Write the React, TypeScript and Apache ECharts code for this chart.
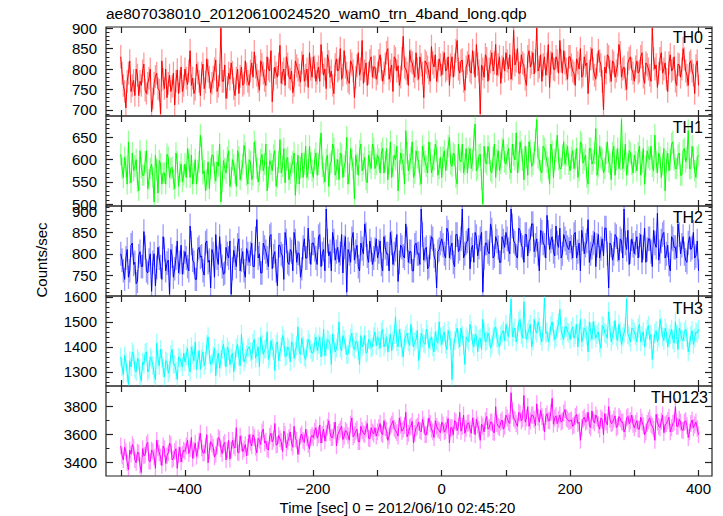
import React, { useEffect, useRef } from 'react';
import * as echarts from 'echarts';

const TITLE = 'ae807038010_20120610024520_wam0_trn_4band_long.qdp';
const X_TITLE = 'Time [sec] 0 = 2012/06/10 02:45:20';
const Y_TITLE = 'Counts/sec';
// Samples "A" are at t = -500 + 4k s, samples "B" at t = -498 + 4k s (2 s spacing overall).
const TIME_START = -500;
const STEP = 2;

const TH0_A = [
  830, 760, 705, 790, 745, 772, 800, 735, 760, 812, 740, 778, 695, 765, 790, 748, 820, 752, 730, 785, 758, 712, 798, 770, 745,
  800, 762, 845, 778, 750, 790, 735, 812, 768, 795, 742, 780, 822, 758, 900, 770, 728, 790, 815, 752, 778, 740, 805, 765, 788,
  760, 815, 842, 785, 748, 810, 772, 830, 795, 720, 805, 780, 858, 790, 760, 812, 775, 742, 820, 798, 768, 835, 785, 755, 800,
  830, 770, 805, 860, 785, 752, 818, 795, 740, 825, 800, 775, 845, 790, 765, 812, 730, 808, 785, 870, 795, 760, 820, 780, 805,
  790, 835, 770, 812, 850, 795, 745, 825, 808, 780, 880, 800, 760, 820, 795, 840, 775, 810, 730, 815, 790, 855, 805, 770, 825,
  785, 840, 800, 760, 830, 810, 870, 790, 822, 748, 815, 795, 845, 780, 812, 690, 800, 835, 770, 818, 795, 860, 810, 765, 828,
  840, 800, 775, 895, 820, 790, 835, 810, 760, 845, 815, 788, 900, 805, 770, 830, 812, 755, 840, 798, 820, 870, 790, 815, 775,
  830, 795, 760, 815, 850, 785, 808, 740, 825, 800, 775, 845, 810, 700, 790, 830, 770, 815, 795, 860, 780, 805, 750, 825, 800,
  770, 820, 795, 840, 765, 810, 785, 900, 800, 755, 825, 790, 815, 745, 835, 800, 770, 812, 780, 850, 795, 760, 820, 785, 808,
  760,
];
const TH0_B = [
  790, 745, 770, 820, 760, 735, 785, 770, 795, 748, 765, 800, 728, 782, 752, 690, 775, 800, 765, 745, 790, 770, 740, 805, 760,
  778, 795, 760, 740, 812, 770, 790, 752, 825, 780, 765, 800, 745, 785, 770, 810, 755, 775, 792, 735, 800, 782, 760, 820, 770,
  795, 780, 805, 770, 820, 790, 760, 800, 845, 775, 790, 812, 765, 800, 830, 780, 795, 760, 808, 785, 815, 770, 800, 840, 780,
  805, 790, 770, 815, 800, 835, 780, 760, 810, 795, 850, 785, 805, 770, 820, 795, 780, 840, 800, 765, 815, 790, 830, 805, 775,
  820, 800, 790, 840, 775, 810, 830, 795, 760, 825, 805, 790, 845, 815, 780, 800, 830, 790, 820, 805, 770, 815, 835, 795, 810,
  815, 795, 830, 810, 780, 845, 800, 820, 770, 805, 835, 790, 815, 860, 795, 810, 780, 825, 800, 840, 815, 785, 830, 805, 795,
  820, 835, 800, 810, 850, 790, 815, 775, 830, 805, 840, 820, 795, 835, 810, 785, 860, 815, 800, 830, 790, 820, 845, 800, 830,
  810, 790, 825, 800, 780, 830, 815, 795, 850, 785, 810, 820, 770, 805, 835, 795, 820, 780, 810, 840, 800, 775, 815, 830, 790,
  805, 790, 830, 780, 815, 800, 770, 825, 810, 790, 840, 800, 775, 815, 795, 830, 760, 810, 800, 825, 785, 815, 795, 740, 820,
];
const TH1_A = [
  612, 560, 585, 640, 548, 575, 600, 530, 582, 565, 620, 555, 590, 505, 578, 598, 545, 570, 612, 560, 583, 535, 595, 572, 550,
  590, 625, 560, 545, 600, 575, 655, 568, 530, 595, 580, 610, 552, 585, 505, 598, 570, 620, 560, 588, 540, 605, 575, 632, 565,
  600, 555, 640, 580, 565, 612, 590, 530, 598, 575, 620, 560, 645, 585, 548, 605, 570, 595, 520, 610, 582, 560, 630, 578, 592,
  560, 615, 590, 660, 570, 600, 540, 595, 625, 578, 555, 610, 585, 650, 568, 600, 512, 590, 620, 575, 605, 548, 595, 635, 580,
  610, 570, 625, 595, 555, 640, 585, 600, 530, 615, 590, 665, 575, 605, 560, 620, 595, 545, 610, 585, 640, 570, 600, 620, 580,
  560, 620, 600, 650, 585, 610, 545, 600, 635, 590, 570, 625, 598, 680, 580, 612, 500, 595, 630, 575, 605, 560, 620, 592, 645,
  590, 625, 570, 610, 660, 595, 620, 555, 605, 640, 585, 615, 690, 600, 570, 625, 595, 545, 618, 600, 655, 580, 610, 590, 630,
  575, 620, 600, 560, 640, 592, 610, 545, 625, 598, 670, 585, 605, 570, 615, 595, 555, 630, 600, 580, 690, 598, 565, 620, 590,
  610, 575, 630, 595, 545, 620, 600, 585, 655, 570, 605, 590, 530, 615, 600, 640, 580, 610, 565, 620, 595, 665, 580, 605, 560,
  610,
];
const TH1_B = [
  580, 605, 545, 570, 615, 585, 550, 620, 565, 595, 535, 580, 560, 610, 525, 590, 570, 545, 605, 580, 555, 615, 540, 590, 565,
  560, 600, 610, 570, 545, 595, 625, 575, 555, 535, 610, 570, 595, 635, 550, 580, 605, 540, 600, 570, 620, 555, 590, 615, 545,
  595, 565, 620, 550, 600, 575, 635, 560, 590, 610, 540, 595, 570, 625, 600, 555, 585, 615, 570, 545, 615, 590, 560, 630, 575,
  600, 565, 625, 585, 550, 610, 590, 635, 565, 600, 615, 560, 595, 545, 625, 580, 610, 565, 635, 590, 555, 610, 580, 625, 590,
  600, 615, 570, 625, 590, 560, 610, 630, 575, 600, 545, 615, 590, 640, 570, 605, 565, 630, 595, 570, 615, 585, 635, 565, 605,
  605, 575, 630, 590, 615, 560, 635, 595, 570, 625, 605, 580, 645, 575, 610, 555, 630, 590, 615, 570, 635, 600, 575, 625, 595,
  610, 580, 635, 600, 570, 640, 600, 630, 565, 620, 590, 645, 605, 575, 630, 610, 580, 635, 560, 620, 600, 580, 640, 610, 590,
  605, 580, 625, 575, 635, 600, 560, 625, 590, 615, 565, 630, 600, 580, 640, 590, 615, 565, 625, 600, 580, 635, 590, 615, 570,
  595, 615, 565, 625, 585, 605, 630, 575, 595, 615, 560, 625, 595, 575, 635, 600, 580, 615, 565, 625, 605, 580, 630, 575, 605,
];
const TH2_A = [
  800, 760, 790, 745, 820, 775, 730, 795, 770, 852, 760, 785, 712, 800, 768, 790, 740, 810, 778, 705, 795, 765, 830, 780, 752,
  805, 770, 865, 785, 740, 810, 792, 760, 825, 780, 720, 800, 845, 775, 795, 752, 815, 790, 705, 808, 770, 835, 785, 760, 812,
  780, 825, 770, 880, 800, 755, 815, 790, 840, 765, 805, 725, 820, 795, 850, 780, 810, 760, 830, 802, 745, 815, 790, 860, 775,
  825, 790, 840, 770, 810, 905, 795, 760, 830, 805, 780, 845, 815, 710, 800, 835, 785, 820, 760, 812, 870, 795, 830, 775, 810,
  790, 830, 760, 815, 800, 850, 775, 810, 735, 820, 795, 870, 780, 805, 760, 825, 800, 905, 785, 815, 770, 840, 795, 720, 810,
  835, 800, 860, 790, 825, 770, 845, 812, 905, 800, 830, 765, 820, 850, 795, 835, 710, 825, 805, 870, 790, 840, 815, 780, 830,
  850, 810, 905, 830, 795, 860, 820, 780, 845, 830, 870, 805, 835, 760, 850, 820, 890, 810, 840, 795, 825, 860, 800, 835, 815,
  830, 790, 850, 805, 760, 835, 820, 880, 800, 825, 770, 845, 812, 795, 860, 720, 820, 800, 840, 785, 830, 905, 810, 775, 835,
  800, 840, 820, 780, 860, 810, 835, 770, 825, 895, 805, 845, 790, 820, 760, 835, 815, 870, 800, 840, 785, 825, 810, 850, 795,
  760,
];
const TH2_B = [
  785, 740, 810, 760, 825, 780, 735, 805, 770, 815, 755, 800, 780, 725, 815, 770, 840, 760, 785, 810, 745, 790, 755, 820, 780,
  790, 760, 825, 780, 740, 815, 795, 750, 830, 785, 810, 745, 790, 840, 770, 755, 800, 830, 765, 790, 820, 760, 805, 745, 800,
  800, 770, 835, 790, 755, 825, 805, 770, 845, 795, 760, 820, 800, 740, 830, 775, 805, 850, 780, 800, 765, 835, 790, 805, 825,
  810, 775, 845, 800, 760, 830, 805, 850, 785, 815, 800, 755, 840, 810, 780, 850, 805, 770, 825, 800, 845, 780, 810, 790, 835,
  805, 775, 840, 800, 760, 825, 800, 845, 780, 815, 790, 835, 805, 760, 820, 800, 775, 845, 810, 765, 815, 835, 785, 805, 825,
  820, 790, 850, 815, 780, 845, 805, 835, 790, 825, 860, 810, 780, 840, 815, 850, 790, 825, 800, 855, 795, 830, 780, 840, 815,
  835, 800, 865, 825, 790, 855, 815, 845, 795, 835, 870, 820, 800, 855, 825, 790, 850, 830, 805, 865, 815, 790, 845, 825, 810,
  815, 845, 790, 825, 855, 800, 830, 780, 815, 850, 820, 790, 835, 860, 800, 825, 785, 845, 810, 835, 790, 825, 855, 805, 820,
  825, 790, 845, 815, 780, 835, 805, 855, 815, 785, 830, 850, 800, 775, 840, 815, 790, 845, 820, 800, 780, 840, 815, 790, 830,
];
const TH3_A = [
  1360, 1290, 1340, 1250, 1320, 1370, 1300, 1345, 1265, 1330, 1380, 1310, 1350, 1290, 1415, 1325, 1355, 1280, 1340, 1310, 1390, 1330, 1270, 1355, 1320,
  1340, 1395, 1300, 1370, 1420, 1350, 1310, 1380, 1345, 1440, 1330, 1365, 1285, 1375, 1350, 1410, 1320, 1385, 1355, 1300, 1395, 1360, 1450, 1340, 1370,
  1400, 1350, 1430, 1375, 1320, 1410, 1390, 1460, 1365, 1395, 1305, 1420, 1380, 1445, 1360, 1400, 1340, 1415, 1385, 1480, 1370, 1405, 1350, 1430, 1390,
  1380, 1440, 1410, 1360, 1470, 1400, 1425, 1330, 1415, 1395, 1500, 1385, 1430, 1370, 1410, 1455, 1390, 1420, 1330, 1400, 1445, 1380, 1425, 1400, 1460,
  1440, 1395, 1470, 1415, 1380, 1450, 1425, 1520, 1400, 1435, 1360, 1445, 1420, 1490, 1400, 1430, 1345, 1455, 1415, 1470, 1395, 1440, 1380, 1425, 1500,
  1410, 1460, 1390, 1440, 1270, 1425, 1475, 1400, 1445, 1330, 1430, 1490, 1415, 1450, 1380, 1435, 1510, 1420, 1455, 1395, 1440, 1480, 1410, 1445, 1465,
  1490, 1440, 1590, 1460, 1420, 1500, 1450, 1580, 1430, 1470, 1400, 1510, 1455, 1480, 1420, 1595, 1460, 1440, 1500, 1430, 1470, 1550, 1445, 1480, 1460,
  1430, 1480, 1450, 1400, 1510, 1440, 1470, 1380, 1460, 1500, 1435, 1460, 1395, 1480, 1450, 1540, 1420, 1465, 1440, 1490, 1410, 1455, 1590, 1440, 1475,
  1460, 1420, 1490, 1445, 1400, 1470, 1430, 1350, 1455, 1420, 1510, 1440, 1475, 1400, 1450, 1430, 1500, 1390, 1460, 1425, 1470, 1380, 1445, 1410, 1460,
  1470,
];
const TH3_B = [
  1320, 1365, 1295, 1345, 1380, 1310, 1355, 1285, 1340, 1375, 1300, 1360, 1325, 1270, 1350, 1390, 1315, 1345, 1295, 1370, 1330, 1305, 1360, 1340, 1375,
  1365, 1320, 1400, 1345, 1310, 1385, 1355, 1325, 1410, 1370, 1335, 1395, 1350, 1315, 1390, 1360, 1400, 1330, 1375, 1345, 1410, 1325, 1380, 1355, 1395,
  1380, 1415, 1355, 1400, 1440, 1370, 1395, 1350, 1425, 1385, 1410, 1345, 1400, 1430, 1365, 1390, 1420, 1355, 1405, 1380, 1435, 1360, 1395, 1415, 1375,
  1415, 1385, 1440, 1400, 1365, 1430, 1410, 1450, 1380, 1420, 1395, 1445, 1405, 1370, 1435, 1400, 1420, 1385, 1445, 1410, 1375, 1430, 1395, 1440, 1405,
  1425, 1460, 1400, 1440, 1415, 1385, 1450, 1420, 1470, 1395, 1430, 1455, 1405, 1440, 1420, 1465, 1390, 1435, 1410, 1450, 1425, 1400, 1460, 1415, 1440,
  1445, 1410, 1465, 1425, 1395, 1455, 1430, 1475, 1405, 1440, 1420, 1465, 1400, 1445, 1430, 1390, 1460, 1425, 1440, 1410, 1470, 1435, 1400, 1455, 1425,
  1460, 1495, 1440, 1475, 1450, 1510, 1435, 1470, 1455, 1490, 1425, 1465, 1500, 1445, 1475, 1455, 1420, 1485, 1460, 1440, 1495, 1465, 1430, 1480, 1455,
  1465, 1435, 1490, 1455, 1420, 1475, 1445, 1500, 1430, 1465, 1450, 1415, 1485, 1455, 1435, 1475, 1445, 1505, 1425, 1460, 1440, 1480, 1450, 1420, 1470,
  1445, 1475, 1420, 1460, 1435, 1485, 1450, 1410, 1465, 1440, 1480, 1425, 1455, 1435, 1470, 1415, 1450, 1475, 1430, 1460, 1440, 1405, 1465, 1435, 1455,
];
const TH0123_A = [
  3520, 3420, 3480, 3350, 3460, 3510, 3400, 3470, 3330, 3450, 3530, 3410, 3490, 3440, 3560, 3470, 3380, 3500, 3450, 3540, 3420, 3480, 3360, 3510, 3460,
  3480, 3560, 3500, 3430, 3540, 3490, 3610, 3470, 3520, 3400, 3550, 3510, 3460, 3580, 3500, 3530, 3420, 3560, 3490, 3520, 3650, 3470, 3540, 3500, 3450,
  3600, 3520, 3580, 3470, 3560, 3620, 3540, 3500, 3590, 3550, 3680, 3530, 3570, 3480, 3600, 3550, 3620, 3510, 3570, 3460, 3590, 3560, 3640, 3530, 3580,
  3580, 3650, 3600, 3540, 3640, 3610, 3700, 3580, 3630, 3520, 3620, 3660, 3590, 3620, 3560, 3720, 3600, 3640, 3550, 3630, 3600, 3680, 3570, 3620, 3650,
  3620, 3680, 3600, 3650, 3560, 3660, 3700, 3630, 3590, 3670, 3640, 3760, 3610, 3660, 3540, 3650, 3690, 3620, 3670, 3600, 3720, 3640, 3580, 3660, 3630,
  3690, 3620, 3670, 3540, 3650, 3700, 3630, 3760, 3660, 3610, 3680, 3640, 3720, 3600, 3670, 3560, 3660, 3700, 3640, 3690, 3620, 3800, 3660, 3690, 3640,
  3740, 3690, 3900, 3720, 3680, 3760, 3700, 3880, 3720, 3660, 3740, 3710, 3820, 3690, 3730, 3620, 3750, 3700, 3860, 3720, 3680, 3740, 3700, 3780, 3710,
  3700, 3660, 3730, 3680, 3560, 3710, 3690, 3760, 3650, 3700, 3740, 3670, 3720, 3600, 3690, 3800, 3680, 3710, 3650, 3730, 3690, 3620, 3720, 3680, 3740,
  3650, 3700, 3640, 3690, 3600, 3680, 3720, 3660, 3560, 3690, 3650, 3740, 3670, 3700, 3620, 3680, 3800, 3660, 3690, 3630, 3700, 3580, 3680, 3650, 3690,
  3600,
];
const TH0123_B = [
  3450, 3510, 3400, 3490, 3530, 3420, 3475, 3380, 3500, 3455, 3545, 3410, 3480, 3360, 3505, 3440, 3520, 3395, 3470, 3530, 3430, 3500, 3455, 3405, 3490,
  3520, 3465, 3580, 3490, 3445, 3555, 3505, 3470, 3600, 3485, 3535, 3440, 3515, 3570, 3465, 3545, 3490, 3425, 3560, 3505, 3475, 3590, 3480, 3530, 3510,
  3545, 3600, 3510, 3575, 3530, 3640, 3555, 3490, 3610, 3570, 3525, 3595, 3550, 3625, 3505, 3580, 3540, 3660, 3560, 3515, 3605, 3545, 3580, 3500, 3595,
  3625, 3575, 3670, 3600, 3555, 3655, 3615, 3580, 3690, 3600, 3640, 3565, 3630, 3595, 3675, 3585, 3625, 3550, 3660, 3610, 3640, 3575, 3650, 3605, 3590,
  3650, 3610, 3700, 3630, 3590, 3675, 3645, 3615, 3720, 3625, 3665, 3585, 3650, 3695, 3610, 3660, 3630, 3710, 3600, 3655, 3680, 3620, 3700, 3640, 3615,
  3670, 3630, 3715, 3650, 3600, 3690, 3660, 3625, 3740, 3645, 3685, 3610, 3665, 3710, 3635, 3675, 3620, 3730, 3650, 3690, 3615, 3680, 3650, 3705, 3660,
  3720, 3680, 3770, 3705, 3660, 3750, 3715, 3690, 3800, 3700, 3740, 3665, 3725, 3775, 3690, 3730, 3700, 3760, 3675, 3735, 3710, 3690, 3755, 3720, 3695,
  3705, 3670, 3745, 3690, 3650, 3725, 3700, 3665, 3770, 3685, 3720, 3640, 3705, 3750, 3670, 3710, 3685, 3735, 3660, 3715, 3690, 3640, 3730, 3700, 3675,
  3680, 3640, 3725, 3665, 3620, 3700, 3675, 3640, 3745, 3660, 3695, 3615, 3680, 3725, 3650, 3690, 3660, 3710, 3635, 3690, 3665, 3620, 3705, 3670, 3645,
];

const BANDS = ['TH0', 'TH1', 'TH2', 'TH3', 'TH0123'];
const SERIES_A = [TH0_A, TH1_A, TH2_A, TH3_A, TH0123_A];
const SERIES_B = [TH0_B, TH1_B, TH2_B, TH3_B, TH0123_B];
const COLORS = ['#ff0000', '#00ff00', '#0000ff', '#00ffff', '#ff00ff'];
const Y_MIN = [685, 496, 701, 1244, 3305];
const Y_MAX = [903, 698, 912, 1603, 3948];
const Y_LABELS = [
  [700, 750, 800, 850, 900],
  [500, 550, 600, 650],
  [750, 800, 850, 900],
  [1300, 1400, 1500, 1600],
  [3400, 3600, 3800],
];
const Y_MINOR_STEP = [10, 10, 10, 20, 100];
const X_MIN = -523;
const X_MAX = 421;
const X_TICKS = [-500, -400, -300, -200, -100, 0, 100, 200, 300, 400];
const X_LABELS = [-400, -200, 0, 200, 400];

const FONT = '"Liberation Sans", Arial, Helvetica, sans-serif';

export default function App() {
  const ref = useRef<HTMLDivElement>(null);
  useEffect(() => {
    document.body.style.margin = '0';
    const chart = echarts.init(ref.current!, null, { renderer: 'svg' });
    const left = 106;
    const width = 606;
    const tops = [27, 116, 206, 296, 386];
    const heights = [89, 90, 90, 90, 90];

    const grids: any[] = [];
    const xAxes: any[] = [];
    const yAxes: any[] = [];
    const series: any[] = [];

    const fmt = (v: number) => (v < 0 ? '\u2212' + Math.abs(v) : String(v));

    for (let p = 0; p < 5; p++) {
      grids.push({
        left, top: tops[p], width, height: heights[p],
        show: true, borderColor: '#222', borderWidth: 1.2, backgroundColor: 'transparent',
      });
      const isLast = p === 4;
      for (const pos of ['bottom', 'top']) {
        xAxes.push({
          type: 'value', gridIndex: p, position: pos, min: X_MIN, max: X_MAX,
          axisLine: { show: false, onZero: false }, splitLine: { show: false },
          axisTick: { show: true, inside: true, length: 6, customValues: X_TICKS, lineStyle: { color: '#222', width: 1.2 } },
          axisLabel: {
            show: isLast && pos === 'bottom', customValues: X_LABELS, formatter: fmt,
            fontSize: 15, fontFamily: FONT, color: '#000', margin: 5,
          },
        });
      }
      const minor: number[] = [];
      for (let v = Math.ceil(Y_MIN[p] / Y_MINOR_STEP[p]) * Y_MINOR_STEP[p]; v <= Y_MAX[p]; v += Y_MINOR_STEP[p]) {
        if (!Y_LABELS[p].includes(v)) minor.push(v);
      }
      for (const pos of ['left', 'right']) {
        yAxes.push({
          type: 'value', gridIndex: p, position: pos, min: Y_MIN[p], max: Y_MAX[p],
          axisLine: { show: false, onZero: false }, splitLine: { show: false },
          axisTick: { show: true, inside: true, length: 7, customValues: Y_LABELS[p], lineStyle: { color: '#222', width: 1.2 } },
          axisLabel: {
            show: pos === 'left', customValues: Y_LABELS[p], formatter: fmt,
            fontSize: 15, fontFamily: FONT, color: '#000', margin: 9,
          },
        });
        yAxes.push({
          type: 'value', gridIndex: p, position: pos, min: Y_MIN[p], max: Y_MAX[p],
          axisLine: { show: false, onZero: false }, splitLine: { show: false },
          axisTick: { show: true, inside: true, length: 3.5, customValues: minor, lineStyle: { color: '#222', width: 1 } },
          axisLabel: { show: false },
        });
      }
      // interleave A (even 2s slots) and B (odd 2s slots) samples in time order
      const A = SERIES_A[p];
      const B = SERIES_B[p];
      const pts: number[][] = [];
      for (let k = 0; k < A.length; k++) {
        pts.push([TIME_START + 2 * k * STEP, A[k]]);
        if (k < B.length) pts.push([TIME_START + (2 * k + 1) * STEP, B[k]]);
      }
      const color = COLORS[p];
      series.push({
        type: 'custom', xAxisIndex: 2 * p, yAxisIndex: 4 * p, clip: true, silent: true,
        data: pts.map(([t, v]) => [t, v, Math.sqrt(v)]),
        renderItem: (params: any, api: any) => {
          const x = api.value(0);
          const y = api.value(1);
          const e = api.value(2);
          const a = api.coord([x, y - e]);
          const b = api.coord([x, y + e]);
          const w = api.size([STEP, 0])[0];
          return {
            type: 'line',
            shape: { x1: a[0], y1: a[1], x2: b[0], y2: b[1] },
            style: { stroke: color, lineWidth: w, opacity: 0.4 },
          };
        },
        z: 1,
      });
      series.push({
        type: 'line', xAxisIndex: 2 * p, yAxisIndex: 4 * p, clip: true, silent: true,
        data: pts,
        showSymbol: false, symbol: 'none',
        lineStyle: { color, width: 1 },
        z: 2,
      });
    }

    const labelPos = [
      [703, 37.5], [703, 127.5], [703, 217.5], [703, 308], [708, 397.5],
    ];

    chart.setOption({
      animation: false,
      backgroundColor: '#fff',
      grid: grids,
      xAxis: xAxes,
      yAxis: yAxes,
      series,
      graphic: [
        {
          type: 'text', left: 106, top: 5,
          style: { text: TITLE, fontSize: 15.5, fontFamily: FONT, fill: '#000' },
        },
        {
          type: 'text', x: 397.5, y: 507,
          style: { text: X_TITLE, fontSize: 15, fontFamily: FONT, fill: '#000', align: 'center', verticalAlign: 'middle' },
        },
        {
          type: 'text', x: 41, y: 260, rotation: Math.PI / 2,
          style: { text: Y_TITLE, fontSize: 15, fontFamily: FONT, fill: '#000', align: 'center', verticalAlign: 'middle' },
        },
        ...BANDS.map((b, i) => ({
          type: 'text', x: labelPos[i][0], y: labelPos[i][1], z: 10,
          style: { text: b, fontSize: 16, fontFamily: FONT, fill: '#000', align: 'right', verticalAlign: 'middle' },
        })),
      ],
    });
    return () => chart.dispose();
  }, []);
  return <div ref={ref} style={{ width: 723, height: 516 }} />;
}
